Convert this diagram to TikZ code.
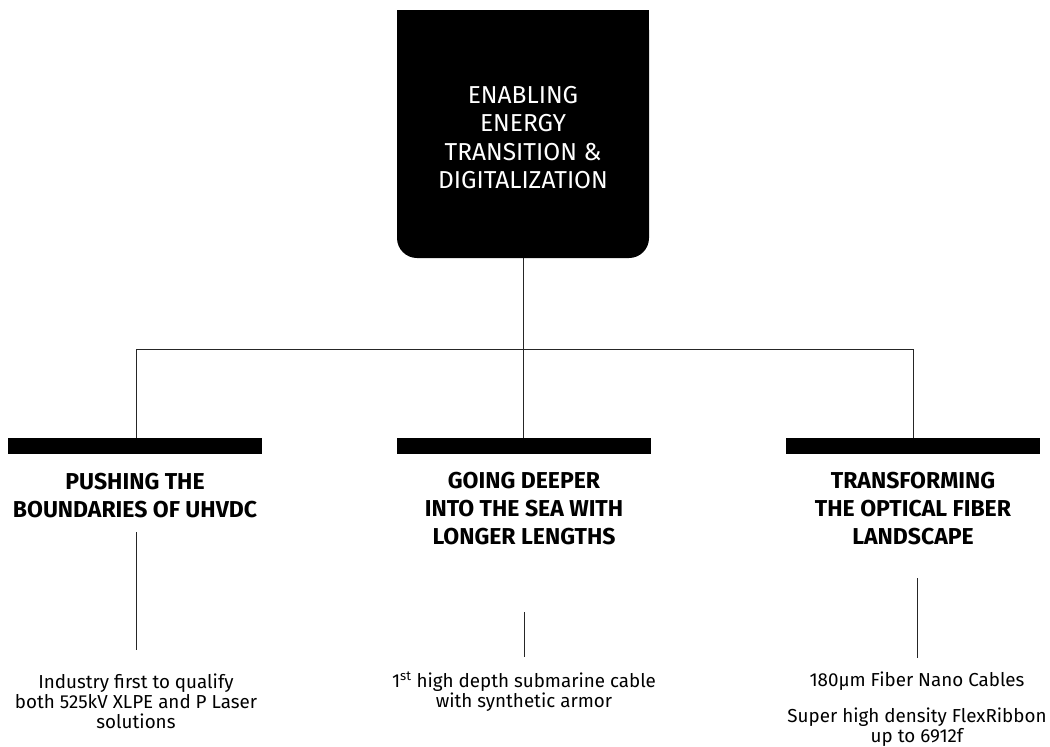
\documentclass[tikz,border=0pt]{standalone}
\usepackage{fontspec}
\setmainfont{Fira Sans}
\usetikzlibrary{positioning,backgrounds}

\begin{document}
\begin{tikzpicture}[
    x=1pt, y=-1pt,
    link/.style={line width=0.9pt, black!85},
    rootbox/.style={fill=black, rounded corners=20pt, text=white, align=center,
                    minimum width=252pt, minimum height=248pt, inner sep=0pt,
                    font=\fontsize{24.5}{28.5}\selectfont},
    barbox/.style={fill=black, minimum width=254pt, minimum height=15.5pt, inner sep=0pt},
    headlbl/.style={align=center, inner sep=0pt, anchor=north,
                    font=\bfseries\fontsize{23}{28}\selectfont},
    desclbl/.style={align=center, inner sep=0pt, anchor=north,
                    font=\fontsize{18.8}{20}\selectfont},
  ]
    \useasboundingbox (0,0) rectangle (1050,747);

    % top box, square top corners
    \node[rootbox] (root) at (523,134)
      {\\[-4pt]ENABLING\\ENERGY\\TRANSITION \&\\DIGITALIZATION};
    \begin{scope}[on background layer]
      \fill[black] (root.north west) rectangle (root.east);
    \end{scope}

    % branch line
    \coordinate (hub)  at (523,349);
    \coordinate (hubL) at (136,349);
    \coordinate (hubR) at (913,349);
    \draw[link] (root.south) -- (hub);
    \draw[link] (hubL) -- (hubR);

    % bars
    \node[barbox] (bar1) at (135,446) {};
    \node[barbox] (bar2) at (523.5,446) {};
    \node[barbox] (bar3) at (912.5,446) {};
    \draw[link] (hubL) -- (hubL |- bar1.north);
    \draw[link] (hub) -- (hub |- bar2.north);
    \draw[link] (hubR) -- (hubR |- bar3.north);

    % headings
    \node[headlbl] (head1) at (135,473) {PUSHING THE\\BOUNDARIES OF UHVDC};
    \node[headlbl] (head2) at (524,472) {GOING DEEPER\\INTO THE SEA WITH\\LONGER LENGTHS};
    \node[headlbl] (head3) at (913,472) {TRANSFORMING\\THE OPTICAL FIBER\\LANDSCAPE};

    % descriptions
    \node[desclbl] (desc1) at (136,674)
      {Industry first to qualify\\both 525kV XLPE and P Laser\\solutions};
    \node[desclbl] (desc2) at (524,672)
      {1\textsuperscript{st} high depth submarine cable\\with synthetic armor};
    \node[desclbl] (desc3) at (917,672)
      {180µm Fiber Nano Cables\\[16pt]Super high density FlexRibbon\\up to 6912f};

    % short ticks
    \coordinate (tick1) at (136,532);
    \coordinate (tick2) at (524,612);
    \coordinate (tick3) at (917,578);
    \draw[link] (tick1) -- ([yshift=24pt]desc1.north);
    \draw[link] (tick2) -- ([yshift=15pt]desc2.north);
    \draw[link] (tick3) -- ([yshift=14pt]desc3.north);
  \end{tikzpicture}
\end{document}
